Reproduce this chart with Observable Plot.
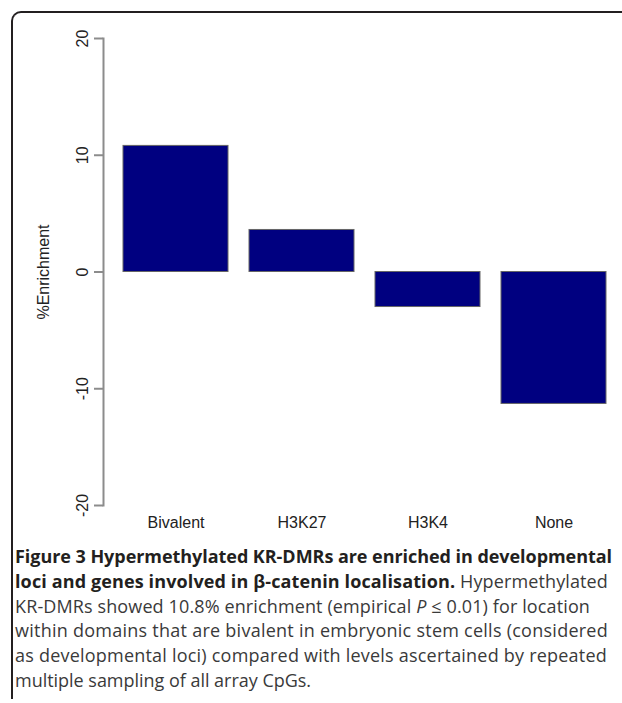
<!DOCTYPE html>
<html><head><meta charset="utf-8">
<script src="https://cdn.jsdelivr.net/npm/d3@7"></script>
<script src="https://cdn.jsdelivr.net/npm/@observablehq/plot@0.6"></script>
<style>
body{margin:0;background:#fff;}
#wrap{position:relative;width:622px;height:703px;overflow:hidden;background:#fff;}
#frame{position:absolute;left:11px;top:11px;width:700px;height:686px;border-top:2px solid #231f20;border-left:2px solid #231f20;border-top-left-radius:10px;z-index:2;pointer-events:none;}
#chart{position:absolute;left:0;top:0;z-index:1;}
#caption{position:absolute;left:0;top:0;z-index:1;}
.cap{position:absolute;left:15px;white-space:nowrap;font-family:"Open Sans",sans-serif;font-size:18px;line-height:25px;color:#3a3a3a;}
.cap b{color:#231f20;font-weight:700;}
</style></head>
<body><div id="wrap"><div id="chart"></div><div id="caption"></div><div id="frame"></div></div>
<script>
const categories = ["Bivalent", "H3K27", "H3K4", "None"];
const enrichment = [10.8, 3.6, -3.0, -11.3];
const yTicks = [-20, -10, 0, 10, 20];
const yLabel = ["%Enrichment"];
const captionLines = [
  "<b>Figure 3 Hypermethylated KR-DMRs are enriched in developmental</b>",
  "<b>loci and genes involved in β-catenin localisation.</b> Hypermethylated",
  "KR-DMRs showed 10.8% enrichment (empirical <i>P</i> ≤ 0.01) for location",
  "within domains that are bivalent in embryonic stem cells (considered",
  "as developmental loci) compared with levels ascertained by repeated",
  "multiple sampling of all array CpGs."
];
// layout: target right edge of each caption line
const captionRight = [612, 608, 590, 608, 607, 311];

const data = categories.map((c, i) => ({category: c, value: enrichment[i]}));
const chart = Plot.plot({
  width: 622, height: 540,
  marginTop: 38, marginBottom: 35, marginLeft: 103, marginRight: 14,
  x: {type: "band", domain: categories, range: [122, 608], paddingInner: 0.163, paddingOuter: 0, label: null},
  y: {domain: [-20, 20], label: null},
  style: {fontFamily: '"Liberation Sans", Arial, sans-serif', fontSize: "16px", color: "#222", background: "transparent"},
  marks: [
    Plot.barY(data, {x: "category", y: "value", fill: "#000080", stroke: "#666", strokeWidth: 1}),
    Plot.frame({anchor: "left", stroke: "#8c8c8c", strokeWidth: 2}),
    Plot.axisY({ticks: yTicks, tickSize: 9, tickFormat: () => "", stroke: "#8c8c8c", strokeWidth: 2, label: null}),
    Plot.text(yTicks, {y: d => d, text: d => String(d), frameAnchor: "left", textAnchor: "middle", dx: -21, rotate: -90, fontSize: 16, fill: "#222"}),
    Plot.text(yLabel, {text: d => d, frameAnchor: "left", textAnchor: "middle", dx: -60, rotate: -90, fontSize: 16, fill: "#222"}),
    Plot.axisX({tickSize: 0, tickPadding: 11, fontSize: 16, label: null, fill: "#222"})
  ]
});
document.getElementById("chart").appendChild(chart);

const cap = document.getElementById("caption");
const divs = captionLines.map((html, i) => {
  const d = document.createElement("div");
  d.className = "cap";
  d.style.top = (544 + 24.8 * i) + "px";
  d.innerHTML = html;
  cap.appendChild(d);
  return d;
});
function fit() {
  divs.forEach((d, i) => {
    d.style.letterSpacing = "0px";
    const w = d.getBoundingClientRect().width;
    const n = d.textContent.length;
    const target = captionRight[i] - 15;
    d.style.letterSpacing = ((target - w) / n) + "px";
  });
}
fit();
Promise.all([document.fonts.load('18px "Open Sans"'), document.fonts.load('bold 18px "Open Sans"')]).then(fit).catch(fit);
</script>
</body></html>
